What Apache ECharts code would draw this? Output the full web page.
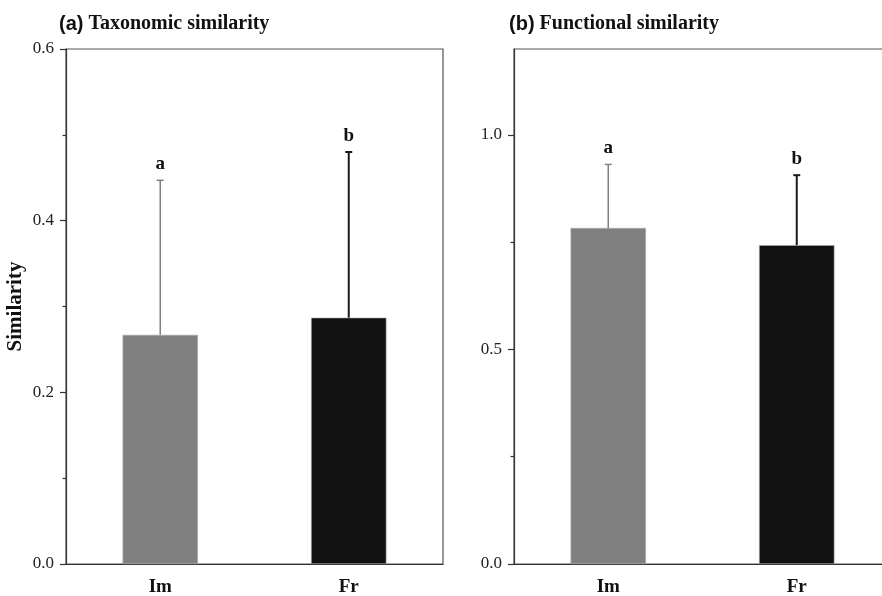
<!DOCTYPE html>
<html>
<head>
<meta charset="utf-8">
<script src="https://cdn.jsdelivr.net/npm/echarts@6/dist/echarts.min.js"></script>
<style>
  html, body { margin: 0; padding: 0; background: #fff; }
  #chart { width: 882px; height: 596px; }
</style>
</head>
<body>
<div id="chart"></div>
<script>
const categories = ['Im', 'Fr']
const letters = ['a', 'b']
const barColors = ['#808080', '#111111']
const errColors = ['#808080', '#1a1a1a']

// (a) taxonomic similarity
const taxMean = [0.267, 0.287]
const taxErr = [0.180, 0.193]
const taxTicks = [0, 0.2, 0.4, 0.6]
const taxMinor = [0.1, 0.3, 0.5]

// (b) functional similarity
const funcMean = [0.783, 0.743]
const funcErr = [0.148, 0.163]
const funcTicks = [0, 0.5, 1.0]
const funcMinor = [0.25, 0.75]

const serif = 'Liberation Serif'
const axisColor = '#333'

function errRenderer(errs) {
  return function (params, api) {
    const i = params.dataIndex
    const m = api.value(1)
    const p0 = api.coord([api.value(0), m])
    const p1 = api.coord([api.value(0), m + errs[i]])
    const style = { stroke: errColors[i], lineWidth: i === 0 ? 1.5 : 2 }
    return {
      type: 'group',
      children: [
        { type: 'line', shape: { x1: p0[0], y1: p0[1], x2: p1[0], y2: p1[1] }, style },
        { type: 'line', shape: { x1: p1[0] - 3.5, y1: p1[1], x2: p1[0] + 3.5, y2: p1[1] }, style },
        {
          type: 'text',
          style: {
            text: letters[i], x: p1[0], y: p1[1] - 16,
            align: 'center', verticalAlign: 'middle',
            font: 'bold 19px "' + serif + '"', fill: '#111'
          }
        }
      ]
    }
  }
}

function makeX(gridIndex) {
  return {
    type: 'category',
    gridIndex,
    data: categories,
    axisLine: { lineStyle: { color: axisColor, width: 1.2 } },
    axisTick: { alignWithLabel: true, length: 7, lineStyle: { color: axisColor, width: 1.2 } },
    axisLabel: { color: '#111', fontFamily: serif, fontWeight: 'bold', fontSize: 19, margin: 14 }
  }
}

function makeY(gridIndex, max, ticks, extra) {
  return Object.assign({
    type: 'value',
    gridIndex,
    position: 'left',
    min: 0,
    max,
    axisLine: { show: true, onZero: false, lineStyle: { color: axisColor, width: 1.2 } },
    axisTick: { show: true, length: 6, customValues: ticks, lineStyle: { color: axisColor, width: 1.2 } },
    axisLabel: {
      customValues: ticks, color: '#222', fontFamily: serif, fontSize: 17, margin: 12,
      formatter: v => v.toFixed(1)
    },
    splitLine: { show: false }
  }, extra || {})
}

function makeMinorY(gridIndex, max, minor) {
  return {
    type: 'value',
    gridIndex,
    position: 'left',
    offset: 0,
    min: 0,
    max,
    axisLine: { show: false },
    axisTick: { show: true, length: 3.5, customValues: minor, lineStyle: { color: axisColor, width: 1.2 } },
    axisLabel: { show: false },
    splitLine: { show: false }
  }
}

const chart = echarts.init(document.getElementById('chart'))

const titleRich = {
  p: { fontFamily: 'Liberation Sans', fontWeight: 'bold', fontSize: 20, color: '#111' },
  t: { fontFamily: serif, fontWeight: 'bold', fontSize: 20, color: '#111' }
}

chart.setOption({
  backgroundColor: '#fff',
  animation: false,
  title: [
    { text: '{p|(a)} {t|Taxonomic similarity}', left: 54, top: 9, textStyle: { rich: titleRich } },
    { text: '{p|(b)} {t|Functional similarity}', left: 504, top: 9, textStyle: { rich: titleRich } }
  ],
  grid: [
    { left: 66, top: 49, width: 377, height: 515, show: true, borderColor: '#555', borderWidth: 1.2, outerBoundsMode: 'none' },
    { left: 514, top: 49, width: 377, height: 515, show: true, borderColor: '#555', borderWidth: 1.2, outerBoundsMode: 'none' }
  ],
  xAxis: [makeX(0), makeX(1)],
  yAxis: [
    makeY(0, 0.6, taxTicks, {
      name: 'Similarity', nameLocation: 'middle', nameGap: 40,
      nameTextStyle: { fontFamily: serif, fontWeight: 'bold', fontSize: 21, color: '#111' }
    }),
    makeY(1, 1.2, funcTicks),
    makeMinorY(0, 0.6, taxMinor),
    makeMinorY(1, 1.2, funcMinor)
  ],
  series: [
    {
      type: 'bar', xAxisIndex: 0, yAxisIndex: 0, barWidth: '40%',
      data: taxMean.map((v, i) => ({ value: v, itemStyle: { color: barColors[i], borderColor: '#aaa', borderWidth: 0.6 } }))
    },
    {
      type: 'bar', xAxisIndex: 1, yAxisIndex: 1, barWidth: '40%',
      data: funcMean.map((v, i) => ({ value: v, itemStyle: { color: barColors[i], borderColor: '#aaa', borderWidth: 0.6 } }))
    },
    {
      type: 'custom', xAxisIndex: 0, yAxisIndex: 0, z: 5,
      renderItem: errRenderer(taxErr),
      data: taxMean.map((v, i) => [i, v])
    },
    {
      type: 'custom', xAxisIndex: 1, yAxisIndex: 1, z: 5,
      renderItem: errRenderer(funcErr),
      data: funcMean.map((v, i) => [i, v])
    }
  ]
})
</script>
</body>
</html>
